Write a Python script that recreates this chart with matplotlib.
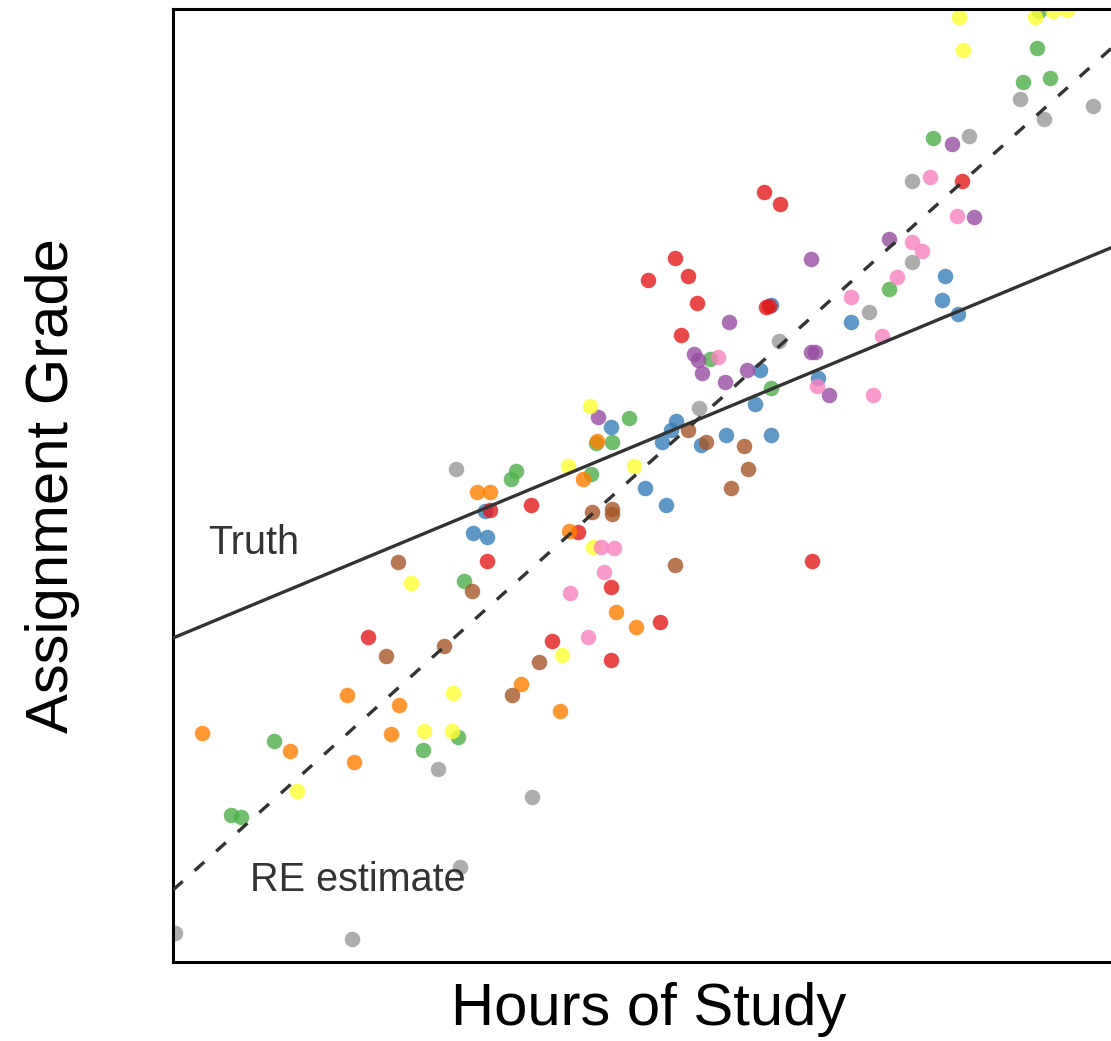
import numpy as np
import matplotlib
matplotlib.use('Agg')
import matplotlib.pyplot as plt

plt.rcParams['font.family'] = ['Liberation Sans', 'DejaVu Sans']

# hours of study / assignment grade, one group per colour
red_x = [5.91, 6.07, 5.02, 4.75, 5.15, 5.24, 5.93, 5.96, 5.08, 7.89, 3.58, 3.17,
         4.05, 3.14, 4.38, 4.87, 3.79, 4.38, 1.95, 6.39]
red_y = [77.0, 75.8, 70.4, 68.2, 68.6, 65.9, 65.5, 65.6, 62.7, 78.1, 45.7, 45.2,
         43.0, 40.1, 37.5, 34.0, 32.1, 30.2, 32.5, 40.1]

blue_x = [5.98, 7.72, 7.69, 6.78, 7.85, 5.87, 5.82, 4.38, 5.03, 4.98, 4.89, 5.28,
          5.53, 5.98, 4.72, 4.93, 3.12, 3.00, 3.14, 6.45]
blue_y = [65.7, 68.6, 66.2, 64.0, 64.8, 59.2, 55.8, 53.5, 54.1, 53.2, 52.0, 51.7,
          52.7, 52.7, 47.4, 45.7, 45.1, 42.9, 42.5, 58.4]

green_x = [8.66, 8.64, 8.50, 8.77, 7.60, 7.16, 5.37, 5.98, 4.56, 4.23, 4.39, 3.43,
           3.38, 4.18, 2.91, 1.01, 2.85, 2.50, 0.58, 0.68]
green_y = [95.1, 91.4, 88.0, 88.4, 82.4, 67.3, 60.3, 57.4, 54.4, 51.9, 52.0, 49.1,
           48.3, 48.8, 38.1, 22.1, 22.5, 21.2, 14.7, 14.5]

purple_x = [5.56, 7.79, 8.01, 7.16, 6.38, 5.21, 5.25, 5.29, 5.52, 5.74, 4.25, 6.38,
            6.42, 6.56]
purple_y = [64.0, 81.8, 74.5, 72.3, 70.3, 60.8, 60.2, 58.9, 58.0, 59.2, 54.5, 61.0,
            61.0, 56.7]

orange_x = [4.24, 4.10, 3.04, 3.17, 3.96, 4.43, 4.63, 3.48, 3.87, 1.74, 2.26, 0.29,
            1.17, 2.18, 1.81]
orange_y = [52.1, 48.3, 47.0, 47.0, 43.1, 35.0, 33.5, 27.8, 25.1, 26.7, 25.7, 22.9,
            21.1, 22.8, 20.0]

yellow_x = [7.86, 7.90, 8.62, 8.80, 8.94, 4.17, 3.95, 4.61, 4.20, 3.89, 2.38, 2.80,
            2.51, 2.79, 1.24]
yellow_y = [94.5, 91.2, 94.5, 95.1, 95.2, 55.6, 49.6, 49.6, 41.5, 30.7, 37.9, 26.9,
            23.1, 23.1, 17.1]

brown_x = [5.15, 5.33, 5.71, 5.75, 5.58, 4.19, 4.39, 4.39, 5.02, 2.25, 2.99, 2.71,
           2.13, 3.66, 3.39]
brown_y = [53.2, 52.0, 51.6, 49.3, 47.4, 45.0, 45.3, 44.8, 39.7, 40.0, 37.1, 31.6,
           30.6, 30.0, 26.7]

pink_x = [7.57, 7.84, 7.39, 7.49, 7.24, 6.78, 7.09, 5.45, 6.44, 7.00, 4.28, 4.41,
          4.31, 3.97, 4.15]
pink_y = [78.5, 74.6, 72.0, 71.1, 68.5, 66.5, 62.6, 60.5, 57.6, 56.7, 41.5, 41.4,
          39.0, 36.9, 32.5]

grey_x = [8.47, 9.20, 8.71, 7.96, 7.39, 7.39, 6.96, 6.06, 5.26, 2.83, 2.65, 3.59,
          2.87, 0.02, 1.79]
grey_y = [86.3, 85.6, 84.3, 82.6, 78.1, 70.0, 65.0, 62.1, 55.4, 49.3, 19.3, 16.5,
          9.5, 2.9, 2.3]

# fitted lines: (intercept, slope)
truth_line = (32.4, 4.16)
re_line = (7.2, 8.97)

groups = [
    (blue_x, blue_y, '#377EB8'),
    (red_x, red_y, '#E41A1C'),
    (green_x, green_y, '#4DAF4A'),
    (purple_x, purple_y, '#984EA3'),
    (orange_x, orange_y, '#FF7F00'),
    (yellow_x, yellow_y, '#FFFF33'),
    (brown_x, brown_y, '#A65628'),
    (pink_x, pink_y, '#F781BF'),
    (grey_x, grey_y, '#999999'),
]

fig = plt.figure(figsize=(11.11, 10.41), dpi=100)
ax = fig.add_axes([173 / 1111, 79 / 1041, 942 / 1111, 953 / 1041])

for gx, gy, col in groups:
    ax.scatter(gx, gy, s=125, color=col, alpha=0.8, linewidths=0, zorder=2)

xs = np.array([0.0, 11.0])
ax.plot(xs, truth_line[0] + truth_line[1] * xs, color='#333333', lw=2.4, zorder=3)
ax.plot(xs, re_line[0] + re_line[1] * xs, color='#333333', lw=2.4,
        dashes=(3.9, 4.8), zorder=3)

ax.text(0.35, 41.9, 'Truth', fontsize=28.5, color='#333333', va='center', ha='left')
ax.text(0.77, 8.2, 'RE estimate', fontsize=28.5, color='#333333', va='center',
        ha='left')

ax.set_xlim(0, 9.42)
ax.set_ylim(0, 95.3)
ax.set_xticks([])
ax.set_yticks([])
for sp in ax.spines.values():
    sp.set_linewidth(2.2)
    sp.set_color('black')

ax.set_xlabel('Hours of Study', fontsize=43, va='center')
ax.xaxis.set_label_coords(0.505, -0.05)
ax.set_ylabel('Assignment Grade', fontsize=43, va='center')
ax.yaxis.set_label_coords(-0.128, 0.5)

plt.savefig('out.png', dpi=100)
plt.close()
